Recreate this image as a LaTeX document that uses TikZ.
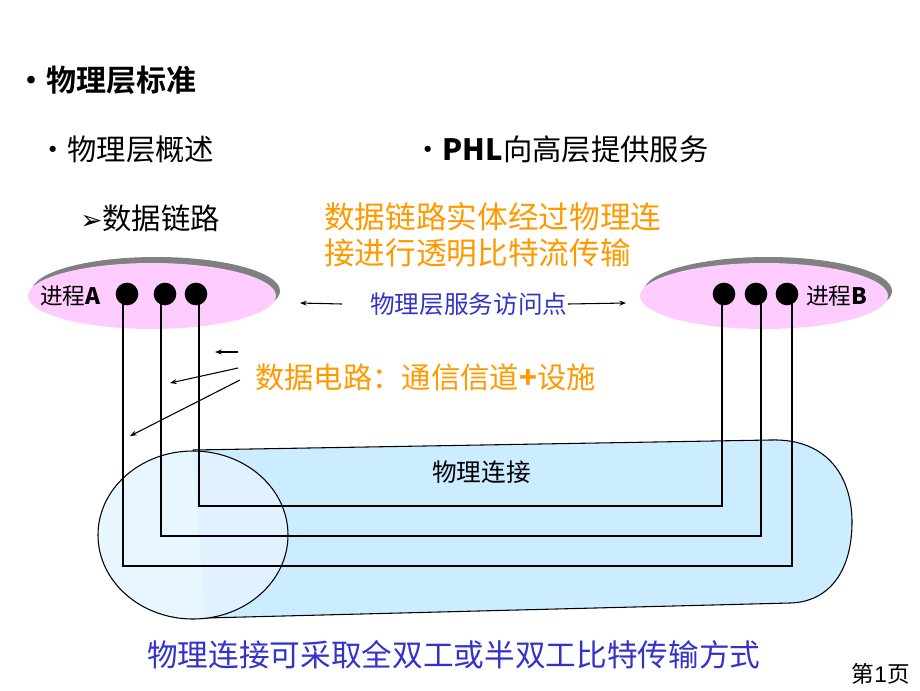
\documentclass[tikz,border=0pt]{standalone}
\usepackage{fontspec}
\setmainfont{Liberation Sans}
\newfontfamily\cjk{Noto Sans CJK SC}
\newfontfamily\cjkb{Noto Sans CJK SC}[BoldFont={Noto Sans CJK SC Bold}]
\newfontfamily\dvs{DejaVu Sans}
\usetikzlibrary{arrows.meta}
\definecolor{pink}{RGB}{255,204,255}
\definecolor{cyl}{RGB}{204,236,255}
\definecolor{cylend}{RGB}{228,244,255}
\definecolor{org}{RGB}{255,153,0}
\definecolor{blu}{RGB}{51,51,204}
\begin{document}
\begin{tikzpicture}[x=0.75pt,y=-0.75pt,
  txt/.style={anchor=west,inner sep=0pt,font=\cjk\fontsize{22}{26}\selectfont},
  dot/.style={circle,fill=black,minimum size=17pt,inner sep=0pt},
  wire/.style={line width=1.6pt},
  arr/.style={-{Stealth[length=5pt]},line width=0.8pt}]
\useasboundingbox (0,0) rectangle (920,690);
% top ellipses
\fill[gray] (156,291) ellipse (124 and 34);
\fill[pink] (152,296) ellipse (124 and 33);
\fill[gray] (768,291) ellipse (124 and 34);
\fill[pink] (764,296) ellipse (124 and 33);
% cylinder
\draw[fill=cyl,line width=0.8pt] (193,450) -- (770,440) .. controls (830,438) and (852,480) .. (852,522) .. controls (852,570) and (830,602) .. (790,603) -- (205,618);
\draw[fill=cylend,fill opacity=0.85,line width=0.8pt] (193,535) ellipse (95 and 84);
% dots
\node[dot] (a1) at (127,294) {};
\node[dot] (a2) at (165,294) {};
\node[dot] (a3) at (196,294) {};
\node[dot] (b1) at (724,294) {};
\node[dot] (b2) at (756,294) {};
\node[dot] (b3) at (787,294) {};
\draw[wire] (a1.center)++(-4,0) -- (123,566) -- (792,566) -- (792,294);
\draw[wire] (a2.center)++(-4,0) -- (161,536) -- (761,536) -- (761,294);
\draw[wire] (a3.center)++(3,0) -- (199,506) -- (722,506) -- (722,294);
\node[txt,font=\cjk\fontsize{17}{20}\selectfont] (pa) at (40,296) {进程\textbf{A}};
\node[txt,font=\cjk\fontsize{17}{20}\selectfont] (pb) at (806,296) {进程\textbf{B}};
% titles
\node[txt,font=\cjkb\fontsize{22.5}{27}\selectfont\bfseries] (t) at (16,80) {•物理层标准};
\node[txt] (s1) at (38,149) {•物理层概述};
\node[txt] (s2) at (413,149) {•\textbf{PHL}向高层提供服务};
\node[txt] (s3) at (80,218) {{\dvs\fontsize{20}{24}\selectfont ➢}数据链路};
\node[txt,text=org,font=\cjk\fontsize{23}{27}\selectfont] (o1) at (324,217) {数据链路实体经过物理连};
\node[txt,text=org,font=\cjk\fontsize{23}{27}\selectfont] (o2) at (324,253) {接进行透明比特流传输};
\node[txt,text=blu,font=\cjk\fontsize{18.5}{22}\selectfont] (sap) at (370,304) {物理层服务访问点};
\coordinate (l1) at (300,303);\coordinate (r1) at (626,303);
\draw[arr] (sap.west)++(-28,0) -- (l1);
\draw[arr] (sap.east) -- (r1);
\node[txt,text=org] (dc) at (255,377) {数据电路：通信信道\textbf{+}设施};
\coordinate (p1) at (238,352);\coordinate (q1) at (215,352);
\coordinate (p2) at (238,368);\coordinate (q2) at (170,383);
\coordinate (p3) at (240,380);\coordinate (q3) at (130,436);
\draw[arr] (p1) -- (q1);
\draw[arr] (p2) -- (q2);
\draw[arr] (p3) -- (q3);
\node[txt,font=\cjk\fontsize{18.5}{22}\selectfont] (pc) at (432,472) {物理连接};
\node[txt,text=blu,font=\cjk\fontsize{23}{27}\selectfont] (bt) at (147,655) {物理连接可采取全双工或半双工比特传输方式};
\node[txt,anchor=east,font=\cjk\fontsize{17}{20}\selectfont] (pg) at (910,674) {第\textrm{1}页};
\end{tikzpicture}
\end{document}
